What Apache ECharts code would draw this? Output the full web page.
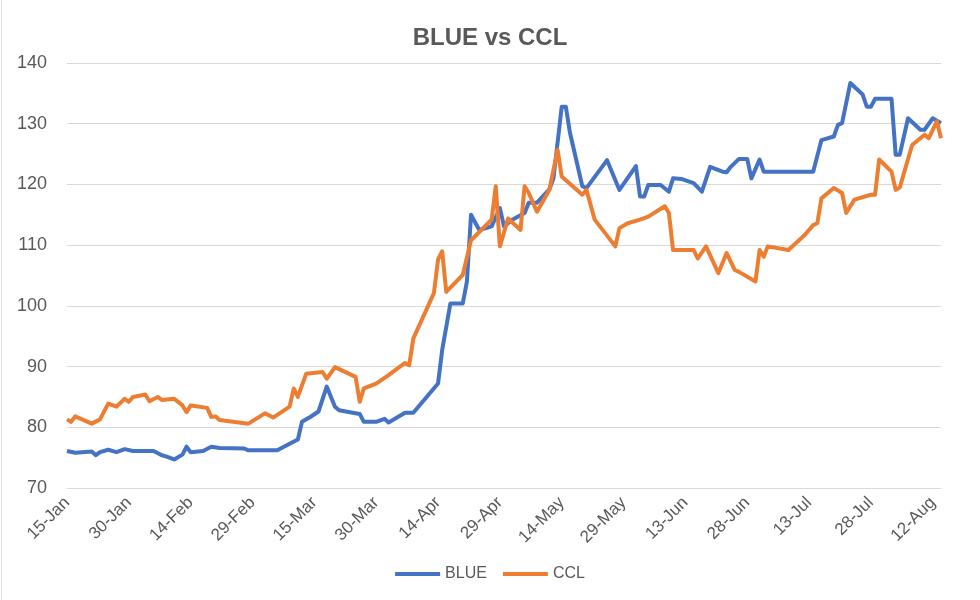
<!DOCTYPE html>
<html>
<head>
<meta charset="utf-8">
<script src="https://cdn.jsdelivr.net/npm/echarts@6/dist/echarts.min.js"></script>
<style>
html,body{margin:0;padding:0;background:#fff;}
#chart{width:980px;height:600px;}
</style>
</head>
<body>
<div id="chart"></div>
<script>
// Axis span (calendar days) and ticks
const startDate = '2020-01-15';
const endDate = '2020-08-14';
const yTicks = [70, 80, 90, 100, 110, 120, 130, 140];
const seriesNames = ['BLUE', 'CCL'];

// BLUE series
const blueDates = ['2020-01-15','2020-01-17','2020-01-21','2020-01-22','2020-01-23','2020-01-25','2020-01-27','2020-01-29','2020-01-31',
'2020-02-05','2020-02-07','2020-02-08','2020-02-10','2020-02-12','2020-02-13','2020-02-14','2020-02-17','2020-02-19','2020-02-21','2020-02-27','2020-02-28',
'2020-03-06','2020-03-09','2020-03-11','2020-03-12','2020-03-14','2020-03-16','2020-03-18','2020-03-20','2020-03-21','2020-03-26','2020-03-27','2020-03-30',
'2020-04-01','2020-04-02','2020-04-06','2020-04-08','2020-04-14','2020-04-15','2020-04-17','2020-04-20','2020-04-21','2020-04-22','2020-04-24','2020-04-27','2020-04-29','2020-04-30',
'2020-05-02','2020-05-05','2020-05-06','2020-05-08','2020-05-11','2020-05-12','2020-05-14','2020-05-15','2020-05-16','2020-05-19','2020-05-20','2020-05-25','2020-05-28',
'2020-06-01','2020-06-02','2020-06-03','2020-06-04','2020-06-07','2020-06-09','2020-06-10','2020-06-12','2020-06-15','2020-06-17','2020-06-19','2020-06-22','2020-06-23','2020-06-24','2020-06-26','2020-06-28','2020-06-29',
'2020-07-01','2020-07-02','2020-07-14','2020-07-16','2020-07-19','2020-07-20','2020-07-21','2020-07-23','2020-07-26','2020-07-27','2020-07-28','2020-07-29',
'2020-08-02','2020-08-03','2020-08-04','2020-08-06','2020-08-09','2020-08-10','2020-08-12','2020-08-14'];
const blueValues = [76.1,75.8,76.0,75.4,75.9,76.3,75.9,76.4,76.1,
76.1,75.4,75.2,74.7,75.5,76.8,75.9,76.1,76.8,76.6,76.5,76.2,
76.2,77.3,78.0,80.9,81.7,82.6,86.7,83.4,82.8,82.2,80.9,80.9,
81.4,80.8,82.4,82.4,87.2,92.7,100.4,100.4,104.0,115.0,112.5,113.1,116.1,113.1,
114.2,115.3,117.0,117.0,119.2,121.0,132.8,132.8,128.5,119.7,119.4,124.0,119.1,
123.0,118.0,118.0,119.9,119.9,118.8,121.0,120.9,120.2,118.8,122.9,122.1,122.0,122.9,124.2,124.2,121.0,
124.1,122.1,122.1,127.3,127.9,129.8,130.1,136.7,134.8,132.8,132.8,134.1,
134.1,124.9,124.9,130.9,129.0,129.0,130.9,130.1];

// CCL series
const cclDates = ['2020-01-15','2020-01-16','2020-01-17','2020-01-21','2020-01-23','2020-01-25','2020-01-27','2020-01-29','2020-01-30','2020-01-31',
'2020-02-03','2020-02-04','2020-02-06','2020-02-07','2020-02-10','2020-02-12','2020-02-13','2020-02-14','2020-02-18','2020-02-19','2020-02-20','2020-02-21','2020-02-28',
'2020-03-03','2020-03-05','2020-03-09','2020-03-10','2020-03-11','2020-03-13','2020-03-17','2020-03-18','2020-03-20','2020-03-25','2020-03-26','2020-03-27','2020-03-30',
'2020-04-02','2020-04-06','2020-04-07','2020-04-08','2020-04-13','2020-04-14','2020-04-15','2020-04-16','2020-04-20','2020-04-22','2020-04-27','2020-04-28','2020-04-29',
'2020-05-01','2020-05-04','2020-05-05','2020-05-06','2020-05-08','2020-05-11','2020-05-13','2020-05-14','2020-05-19','2020-05-20','2020-05-22','2020-05-27','2020-05-28','2020-05-30',
'2020-06-02','2020-06-04','2020-06-08','2020-06-09','2020-06-10','2020-06-15','2020-06-16','2020-06-18','2020-06-21','2020-06-23','2020-06-25','2020-06-26','2020-06-30',
'2020-07-01','2020-07-02','2020-07-03','2020-07-08','2020-07-12','2020-07-14','2020-07-15','2020-07-16','2020-07-19','2020-07-21','2020-07-22','2020-07-24','2020-07-28','2020-07-29','2020-07-30',
'2020-08-02','2020-08-03','2020-08-04','2020-08-07','2020-08-09','2020-08-10','2020-08-11','2020-08-13','2020-08-14'];
const cclValues = [81.3,80.9,81.8,80.6,81.3,83.9,83.4,84.7,84.2,85.0,
85.4,84.3,85.0,84.5,84.7,83.6,82.5,83.6,83.2,81.7,81.8,81.2,80.6,
82.3,81.6,83.4,86.4,85.0,88.8,89.1,88.0,89.9,88.3,84.2,86.4,87.2,
88.6,90.6,90.2,94.6,102.1,107.6,109.0,102.3,105.1,110.8,114.2,119.7,109.8,
114.4,112.5,119.7,118.6,115.5,119.1,125.7,121.3,118.3,119.1,114.2,109.8,112.8,113.6,
114.2,114.7,116.4,115.3,109.2,109.2,107.8,109.8,105.4,108.7,105.9,105.6,104.0,
109.2,108.1,109.8,109.2,111.7,113.3,113.6,117.7,119.4,118.6,115.3,117.5,118.3,118.3,124.1,
122.1,119.1,119.5,126.5,127.6,128.2,127.6,130.4,127.6];

const MONTHS = ['Jan','Feb','Mar','Apr','May','Jun','Jul','Aug','Sep','Oct','Nov','Dec'];
function parseD(s){ const p = s.split('-').map(Number); return Date.UTC(p[0], p[1]-1, p[2]); }
const DAY = 86400000;
const t0 = parseD(startDate), t1 = parseD(endDate);
const categories = [];
const keyIndex = {};
for (let t = t0, i = 0; t <= t1; t += DAY, i++) {
  const d = new Date(t);
  categories.push(d.getUTCDate() + '-' + MONTHS[d.getUTCMonth()]);
  keyIndex[d.toISOString().slice(0,10)] = i;
}
function build(dates, values){
  const arr = new Array(categories.length).fill(null);
  dates.forEach((k, j) => { arr[keyIndex[k]] = values[j]; });
  return arr;
}
const blueSeries = build(blueDates, blueValues);
const cclSeries = build(cclDates, cclValues);

const FONT = 'Liberation Sans';
const chart = echarts.init(document.getElementById('chart'), null, {renderer: 'canvas'});
chart.setOption({
  backgroundColor: '#ffffff',
  animation: false,
  color: ['#4472C4', '#ED7D31'],
  title: {
    text: 'BLUE vs CCL',
    left: 'center',
    top: 21,
    textStyle: {fontFamily: FONT, fontSize: 24, fontWeight: 'bold', color: '#595959'}
  },
  legend: {
    data: seriesNames,
    left: 'center',
    top: 561,
    icon: 'rect',
    itemWidth: 45,
    itemHeight: 4,
    itemGap: 16,
    textStyle: {fontFamily: FONT, fontSize: 16, color: '#595959'}
  },
  grid: {left: 67, right: 39, top: 63, bottom: 112, containLabel: false},
  xAxis: {
    type: 'category',
    data: categories,
    boundaryGap: false,
    axisLine: {show: true, lineStyle: {color: '#d9d9d9', width: 1}},
    axisTick: {show: false},
    splitLine: {show: false},
    axisLabel: {
      interval: 14,
      rotate: 45,
      margin: 12,
      fontFamily: FONT,
      fontSize: 17,
      color: '#595959'
    }
  },
  yAxis: {
    type: 'value',
    min: yTicks[0],
    max: yTicks[yTicks.length - 1],
    interval: 10,
    axisLine: {show: false},
    axisTick: {show: false},
    splitLine: {lineStyle: {color: '#d9d9d9', width: 1}},
    axisLabel: {margin: 20, fontFamily: FONT, fontSize: 18, color: '#595959'}
  },
  series: [
    {name: seriesNames[0], type: 'line', data: blueSeries, connectNulls: true, showSymbol: false,
     lineStyle: {width: 4, color: '#4472C4', join: 'round'}},
    {name: seriesNames[1], type: 'line', data: cclSeries, connectNulls: true, showSymbol: false,
     lineStyle: {width: 4, color: '#ED7D31', join: 'round'}}
  ],
  graphic: [{type: 'line', shape: {x1: 1.5, y1: 0, x2: 1.5, y2: 600}, style: {stroke: '#e3e3e3', lineWidth: 1}, silent: true}]
});
</script>
</body>
</html>
